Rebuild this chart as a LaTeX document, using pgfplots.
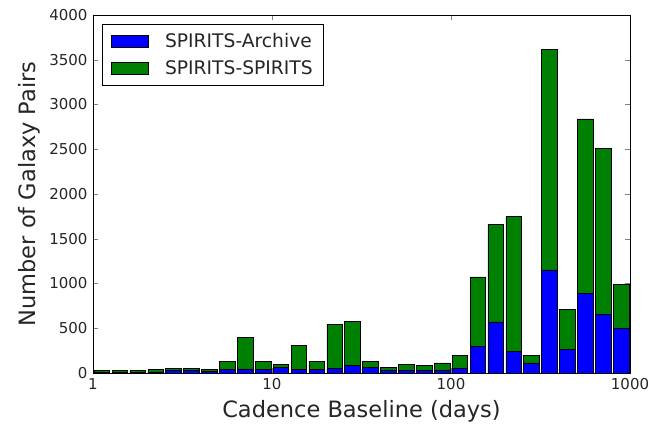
\documentclass[border=0pt]{standalone}
\usepackage{pgfplots}
\pgfplotsset{compat=1.18}
\usepackage{fontspec}
\setmainfont{DejaVu Sans}
\definecolor{mblue}{RGB}{0,0,255}
\definecolor{mgreen}{RGB}{0,128,0}
\pgfplotstableread{
x total blue green
1.122 30 10 20
1.413 25 8 17
1.778 25 8 17
2.239 38 12 26
2.818 48 25 23
3.548 48 25 23
4.467 38 20 18
5.623 134 40 94
7.079 400 45 355
8.913 134 40 94
11.22 97 60 37
14.13 312 40 272
17.78 134 40 94
22.39 545 52 493
28.18 580 89 491
35.48 134 60 74
44.67 67 30 37
56.23 97 30 67
70.79 82 30 52
89.13 112 30 82
112.2 197 52 145
141.3 1074 297 777
177.8 1658 572 1086
223.9 1747 245 1502
281.8 197 112 85
354.8 3617 1152 2465
446.7 714 260 454
562.3 2840 885 1955
707.9 2506 651 1855
891.3 989 494 495
}\datatable
\begin{document}
\begin{tikzpicture}
\begin{axis}[
  scale only axis,
  width=537pt, height=358pt,
  xmode=log,
  xmin=1, xmax=1000,
  ymin=0, ymax=4000,
  xtick={1,10,100,1000},
  xticklabels={1,10,100,1000},
  xminorticks=false,
  ytick={0,500,1000,1500,2000,2500,3000,3500,4000},
  scaled y ticks=false,
  /pgf/number format/assume math mode=true,
  /pgf/number format/set thousands separator={},
  tick label style={font=\fontsize{15}{17}\selectfont, color=black!85},
  xticklabel style={yshift=-2pt},
  yticklabel style={xshift=-2pt},
  tick pos=both,
  tick align=inside,
  major tick length=5pt,
  axis line style={black, line width=0.8pt},
  ybar stacked,
  bar width=15.6pt,
  xlabel={Cadence Baseline (days)},
  ylabel={Number of Galaxy Pairs},
  label style={font=\fontsize{22.5}{25}\selectfont, color=black!85},
  xlabel style={at={(axis description cs:0.5,-0.108)}, anchor=center},
  ylabel style={at={(axis description cs:-0.118,0.5)}, anchor=center},
  legend style={at={(axis description cs:0.0168,0.975)}, anchor=north west,
    font=\fontsize{18.7}{21}\selectfont, text=black!85, draw=black, line width=0.8pt,
    inner xsep=9pt, inner ysep=7pt, row sep=8pt, column sep=14pt},
  legend cell align=left,
  legend image code/.code={\draw[#1, line width=0.6pt] (0pt,-6pt) rectangle (37pt,6pt);},
]
\addplot[fill=mblue, draw=black, line width=0.6pt] table[x=x, y=blue] {\datatable};
\addlegendentry{SPIRITS-Archive}
\addplot[fill=mgreen, draw=black, line width=0.6pt] table[x=x, y=green] {\datatable};
\addlegendentry{SPIRITS-SPIRITS}
\end{axis}
\path (current axis.south west) ++(-93pt,-55pt) coordinate (bl);
\path (current axis.north east) ++(41pt,15pt) coordinate (tr);
\path (bl) rectangle (tr);
\end{tikzpicture}
\end{document}
